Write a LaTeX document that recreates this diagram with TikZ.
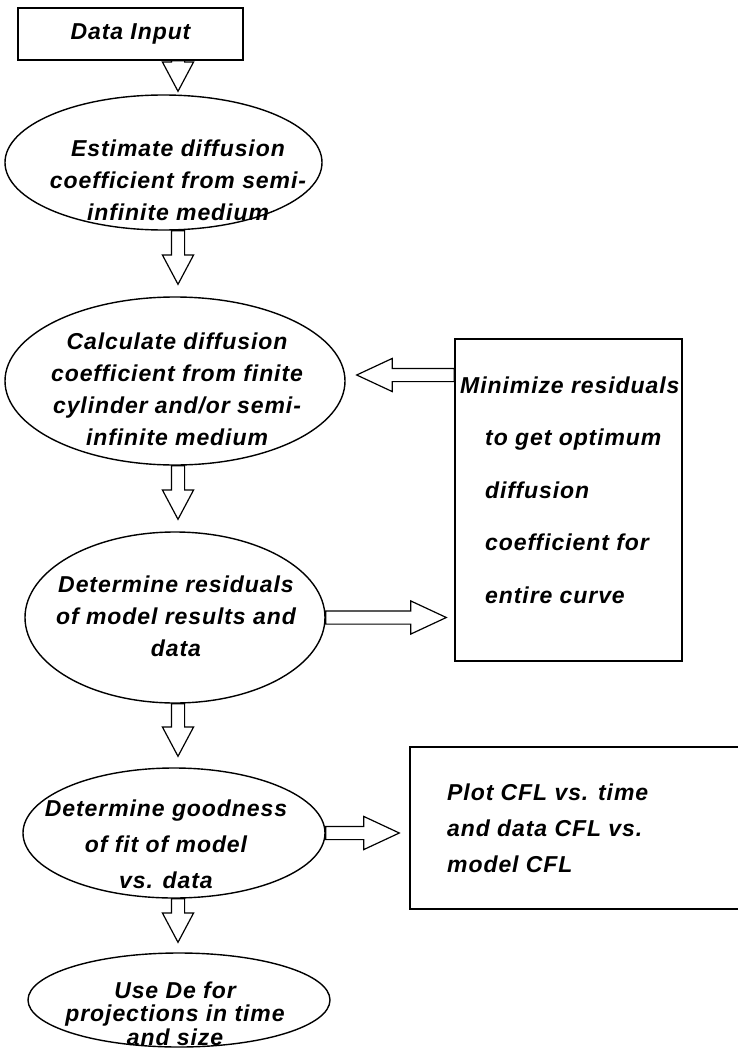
\documentclass[tikz,border=0pt]{standalone}
\usepackage{fontspec}
\newfontfamily\hfont[LetterSpace=4.0]{Liberation Sans}
\usetikzlibrary{shapes.geometric,shapes.arrows,calc}
\tikzset{
  box/.style={draw, line width=1.4pt, rectangle, inner sep=0pt},
  oval/.style={draw, line width=1.4pt, ellipse, inner sep=0pt},
  txt/.style={inner sep=0pt, align=center, font=\hfont\bfseries\itshape\fontsize{23}{32}\selectfont},
  barrow/.style={draw, line width=1.2pt, single arrow, inner xsep=0pt, inner ysep=6pt,
    minimum width=0pt, single arrow head extend=9pt, single arrow tip angle=56,
    single arrow head indent=0pt, anchor=tail, outer sep=0pt},
  hbarrow/.style={barrow, single arrow head extend=10pt, single arrow tip angle=50},
}
\newcommand\blockarrow[5]{% name, style, rotation, start, end
  \path let \p1=#4, \p2=#5, \n1={veclen(\x2-\x1,\y2-\y1)} in
    node[#2, minimum height=\n1, rotate=#3] (#1) at (\p1) {};}
\begin{document}
\begin{tikzpicture}[x=1pt, y=-1pt]
\useasboundingbox (0,0) rectangle (738,1049);
\coordinate (spine) at (178,0);

% main column
\node[box, txt, minimum width=225pt, minimum height=52pt] (din) at (130.5,34) {Data Input};

\node[oval, minimum width=317pt, minimum height=135pt] (e1) at (163.5,162.5) {};
\node[txt] (e1t) at (178,180) {Estimate diffusion\\coefficient from semi-\\infinite medium};

\node[oval, minimum width=340pt, minimum height=168pt] (e2) at (175,381) {};
\node[txt] (e2t) at (177,389.5) {Calculate diffusion\\coefficient from finite\\cylinder and/or semi-\\infinite medium};

\node[oval, minimum width=300pt, minimum height=171pt] (e3) at (175,617.5) {};
\node[txt] (e3t) at (176,616.5) {Determine residuals\\of model results and\\data};

\node[oval, minimum width=302pt, minimum height=130pt] (e4) at (174,833) {};
\node[txt, font=\hfont\bfseries\itshape\fontsize{23}{36}\selectfont] (e4t) at (166,844) {Determine goodness\\of fit of model\\vs. data};

\node[oval, minimum width=302pt, minimum height=94pt] (e5) at (179,1000) {};
\node[txt, font=\hfont\bfseries\itshape\fontsize{23}{23.5}\selectfont] (e5t) at (175,1013.5) {Use De for\\projections in time\\and size};

% right column
\node[box, minimum width=227pt, minimum height=322pt] (mini) at (568.5,500) {};
\node[txt, align=left, anchor=west, font=\hfont\bfseries\itshape\fontsize{23}{52.5}\selectfont] (minit) at (460,490)
  {Minimize residuals\\\hspace*{25pt}to get optimum\\\hspace*{25pt}diffusion\\\hspace*{25pt}coefficient for\\\hspace*{25pt}entire curve};

\node[box, minimum width=335pt, minimum height=162pt] (plot) at (577.5,828) {};
\node[txt, align=left, anchor=west, font=\hfont\bfseries\itshape\fontsize{23}{36}\selectfont] (plott) at (447,828)
  {Plot CFL vs. time\\and data CFL vs.\\model CFL};

% vertical block arrows
\blockarrow{a1}{barrow}{-90}{(din.south -| spine)}{($(e1.north -| spine)+(0,-3)$)}
\blockarrow{a2}{barrow}{-90}{(e1.south -| spine)}{($(e2.north -| spine)+(0,-12)$)}
\blockarrow{a3}{barrow}{-90}{(e2.south -| spine)}{($(e3.north -| spine)+(0,-12)$)}
\blockarrow{a4}{barrow}{-90}{(e3.south -| spine)}{($(e4.north -| spine)+(0,-11)$)}
\blockarrow{a5}{barrow}{-90}{(e4.south -| spine)}{($(e5.north -| spine)+(0,-10)$)}

% horizontal block arrows
\blockarrow{a6}{hbarrow}{180}{($(mini.west)+(0,-125)$)}{($(e2.east)+(11,-6)$)}
\blockarrow{a7}{hbarrow}{0}{(e3.east)}{($(e3.east -| mini.west)+(-8,0)$)}
\blockarrow{a8}{hbarrow}{0}{(e4.east)}{($(e4.east -| plot.west)+(-10,0)$)}
\end{tikzpicture}
\end{document}
